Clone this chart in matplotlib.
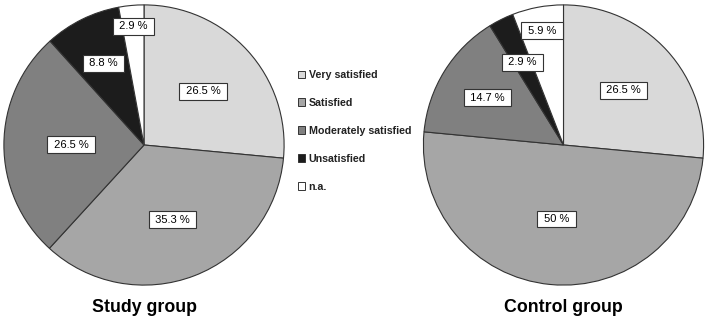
import numpy as np
import matplotlib.pyplot as plt
from matplotlib.patches import Patch

plt.rcParams['font.family'] = ['Liberation Sans', 'DejaVu Sans']

# данные
categories = ["Very satisfied", "Satisfied", "Moderately satisfied", "Unsatisfied", "n.a."]
study_vals = [26.5, 35.3, 26.5, 8.8, 2.9]
control_vals = [26.5, 50, 14.7, 2.9, 5.9]
study_labels = ["26.5 %", "35.3 %", "26.5 %", "8.8 %", "2.9 %"]
control_labels = ["26.5 %", "50 %", "14.7 %", "2.9 %", "5.9 %"]

colors = ["#d9d9d9", "#a6a6a6", "#808080", "#1c1c1c", "#ffffff"]

# расстояние подписей от центра (доля радиуса)
study_dist = [0.57, 0.57, 0.52, 0.65, 0.85]
control_dist = [0.58, 0.53, 0.64, 0.66, 0.83]

W, H = 708, 322
fig = plt.figure(figsize=(W / 100, H / 100), dpi=100)


def draw_pie(cx, cy, r, vals, labels, dists, title):
    ax = fig.add_axes([(cx - r) / W, (H - cy - r) / H, 2 * r / W, 2 * r / H])
    ax.pie(vals, colors=colors, startangle=90, counterclock=False,
           radius=1, wedgeprops=dict(edgecolor="#333333", linewidth=0.8))
    total = sum(vals)
    start = 0
    for v, lab, d in zip(vals, labels, dists):
        mid = np.deg2rad(90 - 360 * (start + v / 2) / total)
        start += v
        ax.text(d * np.cos(mid), d * np.sin(mid), f" {lab} ", ha="center", va="center",
                fontsize=8, color="black",
                bbox=dict(boxstyle="square,pad=0.3", fc="white", ec="#333333", lw=0.8))
    ax.set_xlim(-1.01, 1.01)
    ax.set_ylim(-1.01, 1.01)
    ax.set_aspect("equal")
    fig.text(cx / W, 1 - 308 / H, title, ha="center", va="center",
             fontsize=12.8, fontweight="bold")


draw_pie(144, 145, 141.5, study_vals, study_labels, study_dist, "Study group")
draw_pie(563.5, 145, 141.5, control_vals, control_labels, control_dist, "Control group")

handles = [Patch(facecolor=c, edgecolor="#333333", linewidth=0.7) for c in colors]
leg = fig.legend(handles, categories, loc="upper left", bbox_to_anchor=(298 / W, 1 - 70 / H),
                 frameon=False, prop=dict(size=7.7, weight="bold"),
                 handlelength=0.7, handleheight=0.7, handletextpad=0.3,
                 labelspacing=1.68, borderpad=0, borderaxespad=0)
for t in leg.get_texts():
    t.set_color("#222222")

fig.savefig("out.png", dpi=100)
